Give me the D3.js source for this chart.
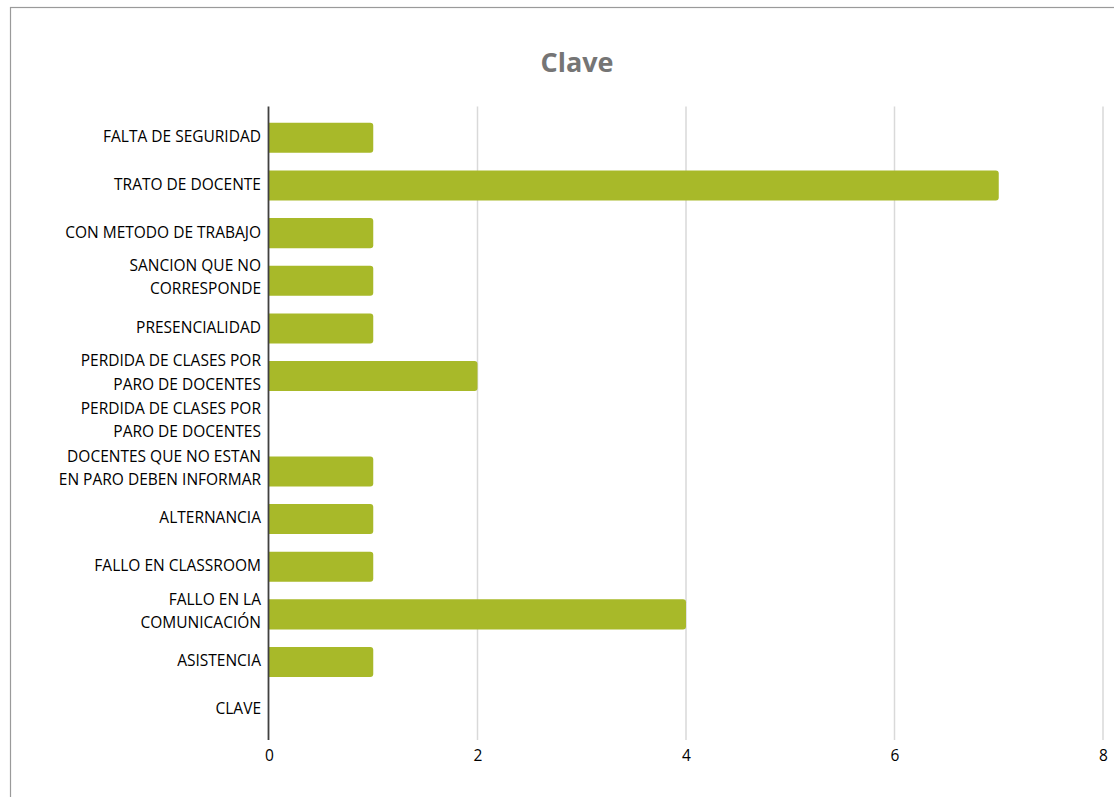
<!DOCTYPE html>
<html>
<head>
<meta charset="utf-8">
<script src="https://cdn.jsdelivr.net/npm/d3@7"></script>
<style>
body { margin: 0; background: #fff; }
svg { display: block; font-family: 'Open Sans', sans-serif; }
</style>
</head>
<body>
<div id="chart"></div>
<script>
var width = 1114, height = 797

// data
var categories = [
	'FALTA DE SEGURIDAD',
	'TRATO DE DOCENTE',
	'CON METODO DE TRABAJO',
	'SANCION QUE NO\nCORRESPONDE',
	'PRESENCIALIDAD',
	'PERDIDA DE CLASES POR\nPARO DE DOCENTES',
	'PERDIDA DE CLASES POR\nPARO DE DOCENTES',
	'DOCENTES QUE NO ESTAN\nEN PARO DEBEN INFORMAR',
	'ALTERNANCIA',
	'FALLO EN CLASSROOM',
	'FALLO EN LA\nCOMUNICACIÓN',
	'ASISTENCIA',
	'CLAVE'
]
var values = [1, 7, 1, 1, 1, 2, 0, 1, 1, 1, 4, 1, 0]
var xTicks = [0, 2, 4, 6, 8]

var svg = d3.select('#chart').append('svg')
	.attr('width', width).attr('height', height)

// chart frame
svg.append('rect')
	.attr('x', 10.5).attr('y', 7.5)
	.attr('width', width + 20).attr('height', height + 20)
	.attr('fill', 'none').attr('stroke', '#9a9a9a').attr('stroke-width', 1.2)

svg.append('text')
	.attr('x', 577).attr('y', 72)
	.attr('text-anchor', 'middle')
	.style('font-size', '27px').style('font-weight', 'bold')
	.style('fill', '#757575')
	.text('Clave')

var plotTop = 106.5, plotBottom = 740
var x = d3.scaleLinear().domain([0, 8]).range([269, 1103])
var y = d3.scaleBand().domain(d3.range(categories.length))
	.range([114, 733.5]).paddingInner(0.37).paddingOuter(0.185)

// gridlines
svg.append('g').selectAll('line').data(xTicks.slice(1)).join('line')
	.attr('x1', function(d){ return x(d) }).attr('x2', function(d){ return x(d) })
	.attr('y1', plotTop).attr('y2', plotBottom)
	.attr('stroke', '#d9d9d9').attr('stroke-width', 1.5)

// bars, right end rounded
var r = 3
svg.append('g').selectAll('path').data(values).join('path')
	.attr('fill', '#a8b929')
	.attr('d', function(d, i){
		if (d === 0) return null
		var x0 = x(0), x1 = x(d), y0 = y(i), h = y.bandwidth()
		return 'M' + x0 + ',' + y0 + 'H' + (x1 - r) + 'Q' + x1 + ',' + y0 + ' ' + x1 + ',' + (y0 + r) +
			'V' + (y0 + h - r) + 'Q' + x1 + ',' + (y0 + h) + ' ' + (x1 - r) + ',' + (y0 + h) + 'H' + x0 + 'Z'
	})

// x axis labels
var xAxis = svg.append('g').attr('transform', 'translate(0,' + plotBottom + ')')
	.call(d3.axisBottom(x).tickValues(xTicks).tickSize(0).tickPadding(10))
xAxis.select('.domain').remove()
xAxis.selectAll('text').style('font-size', '15.5px').style('fill', '#000')
	.style('font-family', "'Open Sans', sans-serif")

// category labels
var yAxis = svg.append('g').attr('transform', 'translate(261,0)')
	.call(d3.axisLeft(y).tickSize(0).tickPadding(0).tickFormat(''))
yAxis.select('.domain').remove()
yAxis.selectAll('.tick').each(function(i){
	var lines = categories[i].split('\n')
	var shift = lines.length > 1 ? -3.5 : -1
	var t = d3.select(this).append('text')
		.attr('text-anchor', 'end').attr('fill', '#000')
		.style('font-size', '15.5px').style('font-family', "'Open Sans', sans-serif")
	lines.forEach(function(l, k){
		t.append('tspan').attr('x', 0)
			.attr('y', (k - (lines.length - 1) / 2) * 23.5 + shift)
			.attr('dy', '0.35em').text(l)
	})
})

// vertical axis line
svg.append('line')
	.attr('x1', 268.5).attr('x2', 268.5)
	.attr('y1', plotTop).attr('y2', plotBottom)
	.attr('stroke', '#404040').attr('stroke-width', 1.8)
</script>
</body>
</html>
